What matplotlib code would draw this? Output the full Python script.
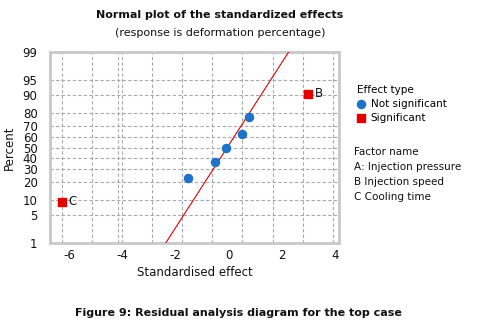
import numpy as np
import matplotlib
matplotlib.use('Agg')
import matplotlib.pyplot as plt
from matplotlib.scale import FuncScale
from statistics import NormalDist

# effects
ns_effect = [-1.52, -0.53, -0.09, 0.51, 0.75]
ns_pct = [23.0, 36.5, 50.0, 63.5, 77.0]
sig_effect = [-6.28, 2.97]
sig_pct = [9.5, 90.5]
sig_names = ['C', 'B']
line_effect = [-2.38, 2.24]
line_pct = [1, 99]

pct_ticks = [1, 5, 10, 20, 30, 40, 50, 60, 70, 80, 90, 95, 99]
x_ticks = [-6, -4, -2, 0, 2, 4]
x_grid = [-6.28, -5.16, -4.16, -4.03, -2.88, -1.76, -0.62, 0.51, 1.65, 2.78, 3.90]

nd = NormalDist()
_ppf = np.vectorize(lambda v: nd.inv_cdf(v / 100.0), otypes=[float])
_cdf = np.vectorize(lambda v: nd.cdf(v) * 100.0, otypes=[float])
def fwd(p):
    p = np.clip(np.asarray(p, dtype=float), 1e-9, 100 - 1e-9)
    return _ppf(p)
def inv(z):
    return _cdf(np.asarray(z, dtype=float))

blue = '#1f73c6'
red = '#e00000'
txt = '#111111'

fig = plt.figure(figsize=(4.81, 3.26), dpi=100)
ax = fig.add_axes([50/481, 1-243.3/326, 289.3/481, 191/326])
ax.set_yscale(FuncScale(ax, (fwd, inv)))
ax.set_ylim(1, 99)
ax.set_xlim(-6.72, 4.15)

ax.set_yticks(pct_ticks)
ax.set_yticklabels([str(t) for t in pct_ticks])
ax.set_xticks(x_ticks)
ax.set_xticklabels([str(t) for t in x_ticks])
ax.set_xticks(x_grid, minor=True)
ax.yaxis.set_minor_locator(matplotlib.ticker.NullLocator())
ax.tick_params(which='both', length=0, labelsize=8.5, colors=txt)
ax.tick_params(axis='y', pad=9)
ax.tick_params(axis='x', pad=4)
ax.grid(which='minor', axis='x', color='#a8a8a8', ls=(0, (3, 2)), lw=0.8)
ax.grid(which='major', axis='y', color='#a8a8a8', ls=(0, (3, 2)), lw=0.8)
ax.grid(which='major', axis='x', visible=False)
for s in ax.spines.values():
    s.set_color('#c8c8c8')
    s.set_linewidth(2)

ax.plot(line_effect, line_pct, color=red, lw=0.8, zorder=3)
ax.scatter(ns_effect, ns_pct, s=34, color=blue, zorder=4, label='Not significant')
ax.scatter(sig_effect, sig_pct, s=34, marker='s', color=red, zorder=4, label='Significant')
for xe, yp, nm in zip(sig_effect, sig_pct, sig_names):
    ax.annotate(nm, (xe, yp), xytext=(5, 0), textcoords='offset points',
                va='center', ha='left', fontsize=8.5, color=txt)

ax.set_xlabel('Standardised effect', fontsize=8.5, color=txt, labelpad=3)
ax.set_ylabel('Percent', fontsize=8.5, color=txt, labelpad=5)

fig.text(220/481, 1-15/326, 'Normal plot of the standardized effects', ha='center', va='center',
         fontsize=8, fontweight='bold', color=txt)
fig.text(220/481, 1-33/326, '(response is deformation percentage)', ha='center', va='center',
         fontsize=8, color=txt)

leg = ax.legend(loc='upper left', bbox_to_anchor=(352/481, 1-80/326), bbox_transform=fig.transFigure,
                frameon=False, fontsize=7.5, title='Effect type', title_fontsize=7.5,
                alignment='left', handlelength=0.8, handletextpad=0.5, borderpad=0,
                labelspacing=0.35, markerscale=1.0)

factors = ['Factor name', 'A: Injection pressure', 'B Injection speed', 'C Cooling time']
for i, f in enumerate(factors):
    fig.text(354/481, 1-(152 + i*15)/326, f, ha='left', va='center', fontsize=7.5, color=txt)

fig.text(238/481, 1-313/326, 'Figure 9: Residual analysis diagram for the top case', ha='center',
         va='center', fontsize=8, fontweight='bold', color=txt)

fig.savefig('out.png', dpi=100)
